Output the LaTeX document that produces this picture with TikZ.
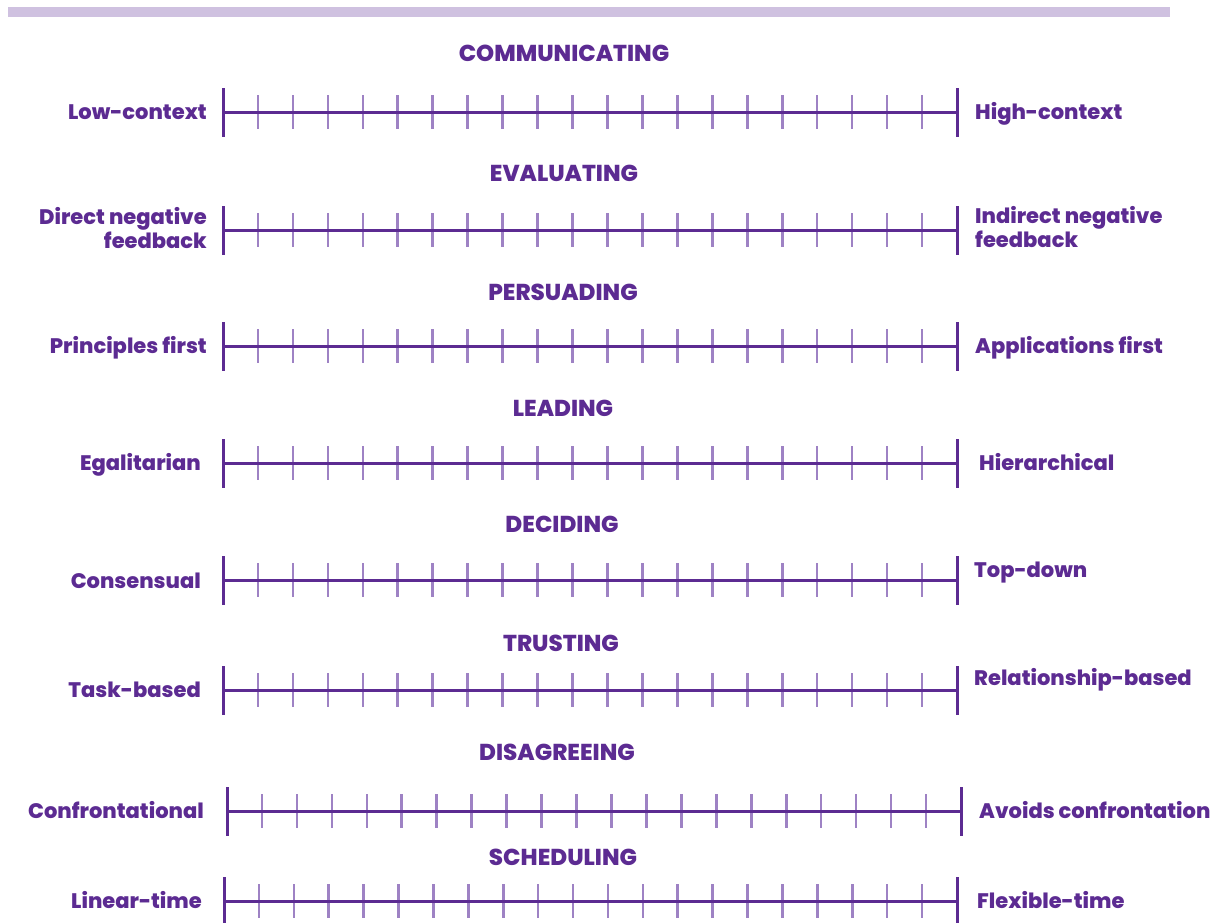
\documentclass[tikz,border=0pt]{standalone}
\usepackage{fontspec}
\setmainfont{Poppins}[BoldFont={Poppins ExtraBold}]
\usetikzlibrary{calc}

\definecolor{ink}{HTML}{5C2B92}
\definecolor{tickc}{HTML}{9E82C4}
\definecolor{barc}{HTML}{CFC1E0}

\tikzset{
  heading/.style={text=ink, font=\fontsize{23}{23}\selectfont\bfseries, inner sep=0pt, anchor=center},
  lowlabel/.style={text=ink, font=\fontsize{21}{21}\selectfont\bfseries, inner sep=0pt, anchor=base east, align=right},
  highlabel/.style={text=ink, font=\fontsize{21}{21}\selectfont\bfseries, inner sep=0pt, anchor=base west, align=left},
  twolow/.style={lowlabel, anchor=east},
  twohigh/.style={highlabel, anchor=west},
  axisline/.style={draw=ink, line width=3pt},
  endbar/.style={draw=ink, line width=3pt},
  tickline/.style={draw=tickc, line width=2.6pt},
}

% one rating scale: #1 name, #2 y of the axis, #3 left end x, #4 right end x
\newcommand\ratingscale[4]{%
  \coordinate (a#1) at (#3,#2);
  \coordinate (b#1) at (#4,#2);
  \draw[tickline] foreach \k in {1,...,20} {($(a#1)!\k/21!(b#1)+(0,-17)$) -- ++(0,34)};
  \draw[axisline] (a#1) -- (b#1);
  \draw[endbar] ($(a#1)+(0,-24)$) -- ($(a#1)+(0,25)$);
  \draw[endbar] ($(b#1)+(0,-24)$) -- ($(b#1)+(0,25)$);
}

\begin{document}
\begin{tikzpicture}[x=1pt,y=-1pt]
\useasboundingbox (0,0) rectangle (1229,922);

% header rule
\fill[barc] (8,7) rectangle (1170,17);

% communicating
\node[heading] (t1) at (564,53) {COMMUNICATING};
\ratingscale{1}{112}{223}{957}
\node[lowlabel] (l1) at (207,119.5) {Low-context};
\node[highlabel] (r1) at (975,119.5) {High-context};

% evaluating
\node[heading] (t2) at (564,173) {EVALUATING};
\ratingscale{2}{230}{223}{957}
\node[twolow] (l2) at (207,228) {Direct negative\\feedback};
\node[twohigh] (r2) at (975,227) {Indirect negative\\feedback};

% persuading
\node[heading] (t3) at (563,292) {PERSUADING};
\ratingscale{3}{346}{223}{957}
\node[lowlabel] (l3) at (207,353.5) {Principles first};
\node[highlabel] (r3) at (975,353.5) {Applications first};

% leading
\node[heading] (t4) at (563,408) {LEADING};
\ratingscale{4}{463}{223}{957}
\node[lowlabel] (l4) at (201,470.5) {Egalitarian};
\node[highlabel] (r4) at (979,470.5) {Hierarchical};

% deciding
\node[heading] (t5) at (562,524) {DECIDING};
\ratingscale{5}{580}{223}{957}
\node[lowlabel] (l5) at (201,588) {Consensual};
\node[highlabel] (r5) at (974,577.5) {Top-down};

% trusting
\node[heading] (t6) at (561,643) {TRUSTING};
\ratingscale{6}{690}{223}{957}
\node[lowlabel] (l6) at (201,697.5) {Task-based};
\node[highlabel] (r6) at (974,685.5) {Relationship-based};

% disagreeing
\node[heading] (t7) at (557,752) {DISAGREEING};
\ratingscale{7}{811}{227}{961}
\node[lowlabel] (l7) at (204,818.5) {Confrontational};
\node[highlabel] (r7) at (979,818.5) {Avoids confrontation};

% scheduling
\node[heading] (t8) at (563,857) {SCHEDULING};
\ratingscale{8}{901}{224}{957}
\node[lowlabel] (l8) at (202,908.5) {Linear-time};
\node[highlabel] (r8) at (977,908.5) {Flexible-time};
\end{tikzpicture}
\end{document}
